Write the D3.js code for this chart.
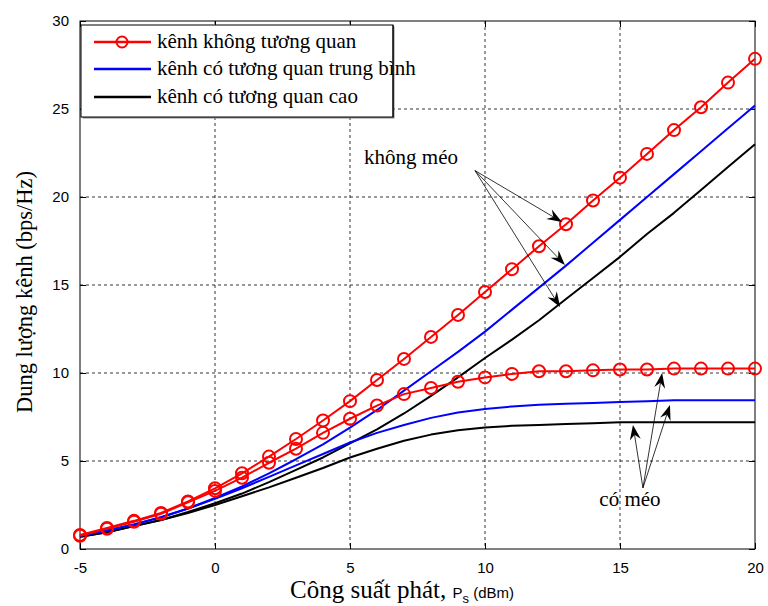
<!DOCTYPE html>
<html>
<head>
<meta charset="utf-8">
<script src="https://cdn.jsdelivr.net/npm/d3@7"></script>
<style>
  body { margin: 0; background: #fff; }
  svg { display: block; }
</style>
</head>
<body>
<div id="chart"></div>
<script>
// x: transmit power (dBm)
const powerDbm = d3.range(-5, 21);

// capacity (bps/Hz)
const uncorrNoDist = [0.8, 1.2, 1.6, 2.05, 2.7, 3.45, 4.3, 5.25, 6.25, 7.3, 8.4, 9.6, 10.8, 12.05, 13.3, 14.6, 15.9, 17.2, 18.45, 19.8, 21.1, 22.45, 23.8, 25.1, 26.5, 27.85];
const uncorrDist   = [0.75, 1.15, 1.55, 2.0, 2.65, 3.3, 4.05, 4.9, 5.7, 6.6, 7.4, 8.15, 8.8, 9.15, 9.5, 9.75, 9.95, 10.1, 10.1, 10.15, 10.2, 10.2, 10.25, 10.25, 10.25, 10.25];
const medNoDist    = [0.75, 1.05, 1.4, 1.8, 2.3, 2.9, 3.55, 4.3, 5.1, 5.95, 6.9, 7.9, 9.0, 10.1, 11.2, 12.35, 13.6, 14.85, 16.1, 17.4, 18.7, 20.0, 21.3, 22.6, 23.9, 25.2];
const medDist      = [0.75, 1.05, 1.4, 1.8, 2.3, 2.85, 3.45, 4.1, 4.75, 5.4, 6.05, 6.6, 7.05, 7.45, 7.75, 7.95, 8.1, 8.2, 8.25, 8.3, 8.35, 8.4, 8.45, 8.45, 8.45, 8.45];
const highNoDist   = [0.7, 0.95, 1.3, 1.65, 2.1, 2.6, 3.15, 3.8, 4.5, 5.2, 6.0, 6.8, 7.7, 8.7, 9.75, 10.85, 11.9, 13.0, 14.2, 15.4, 16.6, 17.9, 19.1, 20.4, 21.7, 23.0];
const highDist     = [0.7, 0.95, 1.3, 1.65, 2.05, 2.5, 3.0, 3.5, 4.05, 4.6, 5.2, 5.7, 6.15, 6.5, 6.75, 6.9, 7.0, 7.05, 7.1, 7.15, 7.2, 7.2, 7.2, 7.2, 7.2, 7.2];

const legendLabels = ['kênh không tương quan', 'kênh có tương quan trung bình', 'kênh có tương quan cao'];
const xTicks = [-5, 0, 5, 10, 15, 20];
const yTicks = [0, 5, 10, 15, 20, 25, 30];

// annotations (data coords): label position, arrow origin, arrow tips
const noDistLabel = { text: 'không méo', x: 7.26, y: 21.9 };
const noDistFrom = [9.63, 21.5];
const noDistTips = [[12.85, 18.58], [12.96, 16.14], [12.78, 13.75]];
const distLabel = { text: 'có méo', x: 15.37, y: 2.44 };
const distFrom = [15.85, 3.47];
const distTips = [[16.56, 10.0], [16.85, 8.18], [15.48, 7.05]];

const W = 768, H = 606;
const margin = { top: 21, right: 13, bottom: 57, left: 80 };
const width = W - margin.left - margin.right;
const height = H - margin.top - margin.bottom;

const svg = d3.select('#chart').append('svg')
    .attr('width', W).attr('height', H);

const g = svg.append('g')
    .attr('transform', `translate(${margin.left},${margin.top})`);

const x = d3.scaleLinear().domain([-5, 20]).range([0, width]);
const y = d3.scaleLinear().domain([0, 30]).range([height, 0]);

// grid
g.append('g')
    .selectAll('line')
    .data(xTicks.slice(1, -1))
    .join('line')
    .attr('x1', d => x(d)).attr('x2', d => x(d))
    .attr('y1', 0).attr('y2', height)
    .attr('stroke', '#000').attr('stroke-width', 0.8)
    .attr('stroke-dasharray', '3 3');
g.append('g')
    .selectAll('line')
    .data(yTicks.slice(1, -1))
    .join('line')
    .attr('x1', 0).attr('x2', width)
    .attr('y1', d => y(d)).attr('y2', d => y(d))
    .attr('stroke', '#000').attr('stroke-width', 0.8)
    .attr('stroke-dasharray', '3 3');

// axes (ticks pointing inward like matlab)
const tickFont = 'Liberation Sans, Arial, sans-serif';
const plain = d => String(d);
const styleAxis = ax => {
    ax.select('.domain').remove();
    ax.selectAll('line').attr('stroke', '#000');
    ax.selectAll('text').attr('fill', '#000').attr('font-size', '15px').attr('font-family', tickFont);
};
g.append('g')
    .attr('transform', `translate(0,${height})`)
    .call(d3.axisBottom(x).tickValues(xTicks).tickFormat(plain).tickSizeInner(-6).tickSizeOuter(0).tickPadding(13))
    .call(styleAxis);
g.append('g')
    .call(d3.axisTop(x).tickValues(xTicks).tickSizeInner(-6).tickSizeOuter(0).tickFormat(''))
    .call(styleAxis);
g.append('g')
    .call(d3.axisLeft(y).tickValues(yTicks).tickFormat(plain).tickSizeInner(-6).tickSizeOuter(0).tickPadding(11))
    .call(styleAxis);
g.append('g')
    .attr('transform', `translate(${width},0)`)
    .call(d3.axisRight(y).tickValues(yTicks).tickSizeInner(-6).tickSizeOuter(0).tickFormat(''))
    .call(styleAxis);

g.append('rect')
    .attr('width', width).attr('height', height)
    .attr('fill', 'none').attr('stroke', '#000').attr('stroke-width', 1);

// curves
const line = d3.line()
    .x((d, i) => x(powerDbm[i]))
    .y(d => y(d));

const series = [
    { values: highDist, color: '#000', w: 2 },
    { values: highNoDist, color: '#000', w: 2 },
    { values: medDist, color: '#0000ff', w: 2 },
    { values: medNoDist, color: '#0000ff', w: 2 },
    { values: uncorrDist, color: '#ff0000', w: 2, marker: true },
    { values: uncorrNoDist, color: '#ff0000', w: 2, marker: true }
];

series.forEach(s => {
    g.append('path')
        .datum(s.values)
        .attr('d', line)
        .attr('fill', 'none')
        .attr('stroke', s.color)
        .attr('stroke-width', s.w)
        .attr('stroke-linejoin', 'round');
    if (s.marker) {
        g.append('g').selectAll('circle')
            .data(s.values)
            .join('circle')
            .attr('cx', (d, i) => x(powerDbm[i]))
            .attr('cy', d => y(d))
            .attr('r', 6)
            .attr('fill', 'none')
            .attr('stroke', s.color)
            .attr('stroke-width', 2);
    }
});

// annotation arrows
const serif = 'Liberation Serif, Times New Roman, serif';
function arrow(from, to) {
    const x0 = x(from[0]), y0 = y(from[1]);
    const x1 = x(to[0]), y1 = y(to[1]);
    const ang = Math.atan2(y1 - y0, x1 - x0);
    const len = 15, half = 5.5, back = 10;
    g.append('line')
        .attr('x1', x0).attr('y1', y0)
        .attr('x2', x1 - Math.cos(ang) * back).attr('y2', y1 - Math.sin(ang) * back)
        .attr('stroke', '#000').attr('stroke-width', 0.8);
    const p = (l, s) => [x1 - Math.cos(ang) * l - Math.sin(ang) * s, y1 - Math.sin(ang) * l + Math.cos(ang) * s];
    g.append('path')
        .attr('d', 'M' + [x1, y1] + 'L' + p(len, half) + 'L' + p(back, 0) + 'L' + p(len, -half) + 'Z')
        .attr('fill', '#000');
}
noDistTips.forEach(t => arrow(noDistFrom, t));
distTips.forEach(t => arrow(distFrom, t));

g.append('text')
    .attr('x', x(noDistLabel.x)).attr('y', y(noDistLabel.y))
    .attr('text-anchor', 'middle')
    .attr('font-family', serif).attr('font-size', '21px')
    .text(noDistLabel.text);
g.append('text')
    .attr('x', x(distLabel.x)).attr('y', y(distLabel.y))
    .attr('text-anchor', 'middle')
    .attr('font-family', serif).attr('font-size', '21px')
    .text(distLabel.text);

// legend
const legend = svg.append('g').attr('transform', 'translate(81,25)');
const legendColors = ['#ff0000', '#0000ff', '#000'];
const legendY = [17, 44, 72];
legend.append('rect')
    .attr('x', 1.5).attr('y', 1.5).attr('width', 312).attr('height', 92)
    .attr('fill', '#888');
legend.append('rect')
    .attr('width', 312).attr('height', 92)
    .attr('fill', '#fff').attr('stroke', '#000').attr('stroke-width', 1);
legendLabels.forEach((lab, i) => {
    legend.append('line')
        .attr('x1', 13).attr('x2', 70)
        .attr('y1', legendY[i]).attr('y2', legendY[i])
        .attr('stroke', legendColors[i]).attr('stroke-width', 2.5);
    if (i === 0) {
        legend.append('circle')
            .attr('cx', 41).attr('cy', legendY[i]).attr('r', 5.5)
            .attr('fill', 'none').attr('stroke', legendColors[i]).attr('stroke-width', 2);
    }
    legend.append('text')
        .attr('x', 76).attr('y', legendY[i] + 6)
        .attr('font-family', serif).attr('font-size', '21px')
        .attr('fill', '#000')
        .text(lab);
});
legend.append('line')
    .attr('x1', 312).attr('x2', 312).attr('y1', 0).attr('y2', 92)
    .attr('stroke', '#000');

// axis titles
svg.append('text')
    .attr('transform', `translate(32,292) rotate(-90)`)
    .attr('text-anchor', 'middle')
    .attr('font-family', serif).attr('font-size', '22.5px')
    .text('Dung lượng kênh (bps/Hz)');

const xTitle = svg.append('text')
    .attr('x', 290).attr('y', 598)
    .attr('font-family', serif).attr('font-size', '25px');
xTitle.append('tspan').text('Công suất phát, ');
xTitle.append('tspan').attr('font-family', tickFont).attr('font-size', '15px').text('P');
xTitle.append('tspan').attr('font-family', tickFont).attr('font-size', '13px').attr('dy', 5).text('s');
xTitle.append('tspan').attr('font-family', tickFont).attr('font-size', '15px').attr('dy', -5).text(' (dBm)');
</script>
</body>
</html>
